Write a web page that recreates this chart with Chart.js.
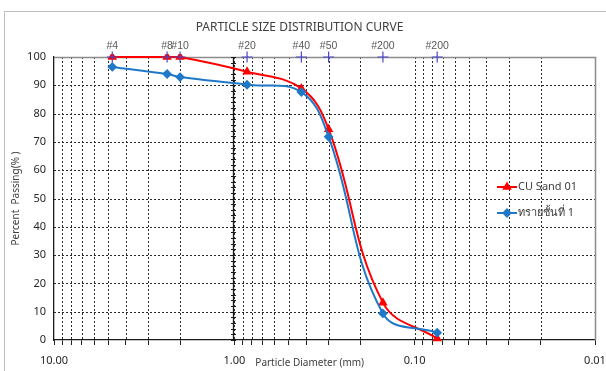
<!DOCTYPE html>
<html>
<head>
<meta charset="utf-8">
<script src="https://cdn.jsdelivr.net/npm/chart.js@4/dist/chart.umd.min.js"></script>
<style>
  html, body { margin: 0; padding: 0; background: #ffffff; }
  #wrap { width: 606px; height: 371px; }
</style>
</head>
<body>
<div id="wrap"><canvas id="psd" width="606" height="371"></canvas></div>
<script>
// Sieve openings (mm) and their sieve numbers
const sieveSizes = [4.75, 2.36, 2.0, 0.85, 0.425, 0.3, 0.15, 0.075];
const sieveLabels = ['#4', '#8', '#10', '#20', '#40', '#50', '#200', '#200'];

// Percent passing for each sample
const cuSand01 = [100, 100, 100, 94.8, 88.9, 74.5, 13.2, 0.5];
const sandLayer1 = [96.5, 94.0, 92.9, 90.2, 87.6, 71.8, 9.4, 2.6];

const seriesNames = ['CU Sand 01', 'ทรายชั้นที่ 1'];
const seriesColors = ['#ff0000', '#1f78c8'];
const seriesPoints = ['triangle', 'rectRot'];

const FONT = "'Noto Sans', 'DejaVu Sans', sans-serif";
const LABEL_FONT = "'Liberation Sans', 'DejaVu Sans', sans-serif";

const toPoints = (vals) => sieveSizes.map((s, i) => ({ x: s, y: vals[i] }));

// Frame around the whole chart
const framePlugin = {
  id: 'frame',
  beforeDraw(chart) {
    const ctx = chart.ctx;
    ctx.save();
    ctx.fillStyle = '#ffffff';
    ctx.fillRect(0, 0, chart.width, chart.height);
    ctx.strokeStyle = '#bfbfbf';
    ctx.lineWidth = 1;
    ctx.strokeRect(4.5, 11.5, chart.width + 20, chart.height + 20);
    ctx.restore();
  }
};

// Dashed grid, plot borders, the axis line crossing at 1 mm, and the axis caption
const axesPlugin = {
  id: 'axesExtra',
  beforeDatasetsDraw(chart) {
    const { ctx, chartArea: a, scales: { x, y } } = chart;
    ctx.save();
    ctx.strokeStyle = '#2b2b2b';
    ctx.lineWidth = 1;
    ctx.setLineDash([2, 2]);
    ctx.beginPath();
    x.ticks.forEach((t) => {
      const px = Math.round(x.getPixelForValue(t.value)) + 0.5;
      if (px < a.left + 2 || px > a.right - 2) return;
      ctx.moveTo(px, a.top);
      ctx.lineTo(px, a.bottom);
    });
    y.ticks.forEach((t) => {
      const py = Math.round(y.getPixelForValue(t.value)) + 0.5;
      if (py < a.top + 2 || py > a.bottom - 2) return;
      ctx.moveTo(a.left, py);
      ctx.lineTo(a.right, py);
    });
    ctx.stroke();
    ctx.setLineDash([]);
    // top and right borders
    ctx.strokeStyle = '#8c8c8c';
    ctx.lineWidth = 1.5;
    ctx.beginPath();
    ctx.moveTo(a.left, Math.round(a.top) + 0.5);
    ctx.lineTo(Math.round(a.right) + 0.5, Math.round(a.top) + 0.5);
    ctx.lineTo(Math.round(a.right) + 0.5, a.bottom);
    ctx.stroke();
    // vertical axis line at 1 mm with minor ticks
    const px = Math.round(x.getPixelForValue(1)) - 0.5;
    ctx.strokeStyle = '#1a1a1a';
    ctx.lineWidth = 1.3;
    ctx.beginPath();
    ctx.moveTo(px, a.top);
    ctx.lineTo(px, a.bottom);
    ctx.stroke();
    ctx.lineWidth = 1;
    ctx.beginPath();
    for (let v = 0; v <= 100; v += 2) {
      const py = Math.round(y.getPixelForValue(v)) + 0.5;
      ctx.moveTo(px - 2.5, py);
      ctx.lineTo(px + 2.5, py);
    }
    ctx.stroke();
    ctx.restore();
  },
  afterDraw(chart) {
    const { ctx, scales: { x } } = chart;
    ctx.save();
    ctx.font = "10px " + FONT;
    ctx.fillStyle = '#404040';
    ctx.textAlign = 'left';
    ctx.textBaseline = 'middle';
    ctx.fillText('Particle Diameter (mm)', x.getPixelForValue(1) + 21, 363);
    ctx.restore();
  }
};

// Sieve number labels above the sieve markers
const sieveLabelPlugin = {
  id: 'sieveLabels',
  afterDatasetsDraw(chart) {
    const meta = chart.getDatasetMeta(2);
    const ctx = chart.ctx;
    ctx.save();
    ctx.font = "10.5px " + LABEL_FONT;
    ctx.fillStyle = '#595959';
    ctx.textAlign = 'center';
    ctx.textBaseline = 'bottom';
    meta.data.forEach((pt, i) => {
      ctx.fillText(sieveLabels[i], pt.x, pt.y - 6);
    });
    ctx.restore();
  }
};

// Legend drawn inside the plot, on the right
const legendPlugin = {
  id: 'insideLegend',
  afterDatasetsDraw(chart) {
    const { ctx, chartArea: a } = chart;
    ctx.save();
    ctx.font = "11px " + FONT;
    ctx.textBaseline = 'middle';
    ctx.textAlign = 'left';
    const x0 = a.right - 98;
    [0, 1].forEach((i) => {
      const yy = a.top + 130 + i * 26;
      ctx.strokeStyle = seriesColors[i];
      ctx.lineWidth = 2;
      ctx.beginPath();
      ctx.moveTo(x0, yy);
      ctx.lineTo(x0 + 20, yy);
      ctx.stroke();
      ctx.fillStyle = seriesColors[i];
      Chart.helpers.drawPoint(ctx, { pointStyle: seriesPoints[i], radius: 3.5, borderWidth: 1 }, x0 + 10, yy);
      ctx.fillStyle = '#404040';
      ctx.fillText(seriesNames[i], x0 + 21, yy);
    });
    ctx.restore();
  }
};

new Chart(document.getElementById('psd'), {
  type: 'line',
  data: {
    datasets: [
      {
        label: seriesNames[0],
        data: toPoints(cuSand01),
        borderColor: seriesColors[0],
        backgroundColor: seriesColors[0],
        borderWidth: 2,
        pointStyle: seriesPoints[0],
        pointRadius: 3.5,
        tension: 0.4,
        clip: 3,
        order: 2
      },
      {
        label: seriesNames[1],
        data: toPoints(sandLayer1),
        borderColor: seriesColors[1],
        backgroundColor: seriesColors[1],
        borderWidth: 2,
        pointStyle: seriesPoints[1],
        pointRadius: 3.5,
        tension: 0.4,
        clip: 3,
        order: 1
      },
      {
        label: 'Sieves',
        data: sieveSizes.map((s) => ({ x: s, y: 100 })),
        showLine: false,
        borderColor: '#4848c8',
        backgroundColor: '#4848c8',
        pointStyle: 'cross',
        pointRadius: 5.5,
        borderWidth: 1.2,
        clip: false,
        order: 0
      }
    ]
  },
  options: {
    responsive: false,
    animation: false,
    events: [],
    layout: { padding: { top: 0, left: 4, right: 11, bottom: 0 } },
    plugins: {
      legend: { display: false },
      tooltip: { enabled: false },
      title: {
        display: true,
        text: 'PARTICLE SIZE DISTRIBUTION CURVE',
        color: '#404040',
        font: { family: FONT, size: 12, weight: 'normal' },
        padding: { top: 20, bottom: 22.6 }
      }
    },
    scales: {
      x: {
        type: 'logarithmic',
        reverse: true,
        min: 0.01,
        max: 10,
        afterBuildTicks(scale) {
          const t = [];
          for (let e = -2; e <= 0; e++) {
            for (let m = 1; m <= 9; m++) t.push({ value: m * Math.pow(10, e) });
          }
          t.push({ value: 10 });
          scale.ticks = t;
        },
        afterFit(scale) { scale.height = 31; },
        ticks: {
          autoSkip: false,
          maxRotation: 0,
          padding: 9,
          color: '#262626',
          font: { family: FONT, size: 11 },
          callback(value) {
            const lg = Math.log10(value);
            return Math.abs(lg - Math.round(lg)) < 1e-6 ? Number(value).toFixed(2) : '';
          }
        },
        grid: {
          drawOnChartArea: false,
          tickLength: 5,
          tickColor: '#222222',
          tickWidth: 1
        },
        border: { display: true, color: '#1a1a1a', width: 1.3 }
      },
      y: {
        min: 0,
        max: 100,
        afterFit(scale) { scale.width = 50; },
        ticks: {
          stepSize: 10,
          padding: 8,
          color: '#262626',
          font: { family: FONT, size: 11 }
        },
        grid: {
          drawOnChartArea: false,
          drawTicks: false
        },
        border: { display: true, color: '#1a1a1a', width: 1.3 },
        title: {
          display: true,
          text: 'Percent  Passing(% )',
          color: '#404040',
          font: { family: FONT, size: 10 },
          padding: { top: 6, bottom: 0 }
        }
      }
    }
  },
  plugins: [framePlugin, axesPlugin, sieveLabelPlugin, legendPlugin]
});
</script>
</body>
</html>
